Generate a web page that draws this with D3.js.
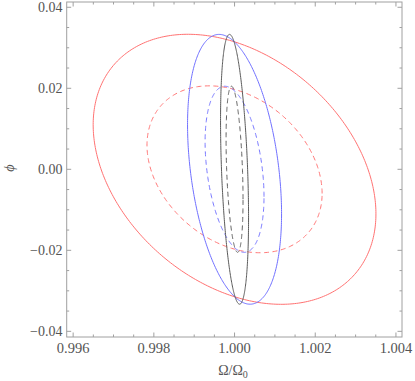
<!DOCTYPE html>
<html><head><meta charset="utf-8">
<script src="https://cdn.jsdelivr.net/npm/d3@7"></script>
<style>body{margin:0;background:#fff}svg{display:block}</style>
</head><body>
<script>
// Contour ellipses: centre, half-extent in x, half-extent in y, correlation
const names   = ["red2","red1","blue2","blue1","black2","black1"];
const colors  = ["#ff7272","#ff7878","#7070ff","#7878ff","#5a5a5a","#606060"];
const dashed  = [false,true,false,true,false,true];
const centerX = [1.0,1.0,1.0,1.0,1.0,1.0];
const centerY = [0,0,0,0,0,0];
const extentX = [0.003504,0.00217,0.001165,0.00073,0.000347,0.00021];
const extentY = [0.03333,0.0206,0.0333,0.0205,0.0333,0.0205];
const rho     = [-0.33,-0.29,-0.33,-0.33,-0.36,-0.36];
const xTicks  = [0.996,0.998,1.000,1.002,1.004];
const yTicks  = [-0.04,-0.02,0.00,0.02,0.04];

const W=415,H=381;
const m={l:66.7,r:402,t:2,b:337};
const x=d3.scaleLinear().domain([0.99584,1.00415]).range([m.l,m.r]);
const y=d3.scaleLinear().domain([-0.0414,0.0413]).range([m.b,m.t]);
const svg=d3.select("body").append("svg").attr("width",W).attr("height",H);
const FONT='"Liberation Serif", "Times New Roman", serif';

// ellipses
const line=d3.line().x(d=>x(d[0])).y(d=>y(d[1])).curve(d3.curveLinearClosed);
names.forEach((n,i)=>{
  const th=Math.acos(rho[i]);
  const pts=d3.range(0,360,1).map(a=>{const t=a*Math.PI/180;
    return [centerX[i]+extentX[i]*Math.cos(t), centerY[i]+extentY[i]*Math.cos(t-th)];});
  svg.append("path").attr("d",line(pts)).attr("fill","none")
    .attr("stroke",colors[i]).attr("stroke-width",1)
    .attr("stroke-dasharray",dashed[i]?"5,3.5":null);
});

// frame
const fc="#a0a0a0";
svg.append("rect").attr("x",m.l).attr("y",m.t).attr("width",m.r-m.l).attr("height",m.b-m.t)
  .attr("fill","none").attr("stroke",fc).attr("stroke-width",1);

const xMinor=d3.range(0.996,1.00401,0.0005).map(v=>+v.toFixed(5));
const yMinor=d3.range(-0.04,0.04001,0.005).map(v=>+v.toFixed(4));
const g=svg.append("g").attr("stroke",fc).attr("stroke-width",1);
xMinor.forEach(v=>{
  const major=xTicks.some(t=>Math.abs(t-v)<1e-7), L=major?4.5:2.5, px=x(v);
  g.append("line").attr("x1",px).attr("x2",px).attr("y1",m.b).attr("y2",m.b-L);
  g.append("line").attr("x1",px).attr("x2",px).attr("y1",m.t).attr("y2",m.t+L);
});
yMinor.forEach(v=>{
  const major=yTicks.some(t=>Math.abs(t-v)<1e-7), L=major?4.5:2.5, py=y(v);
  g.append("line").attr("y1",py).attr("y2",py).attr("x1",m.l).attr("x2",m.l+L);
  g.append("line").attr("y1",py).attr("y2",py).attr("x1",m.r).attr("x2",m.r-L);
});

const tc="#555";
xTicks.forEach(v=>svg.append("text").attr("x",x(v)).attr("y",352.5)
  .attr("text-anchor","middle").style("font-family",FONT).style("font-size","14.5px").attr("fill",tc)
  .text(d3.format(".3f")(v)));
yTicks.forEach(v=>svg.append("text").attr("x",62.5).attr("y",y(v)+4.8)
  .attr("text-anchor","end").style("font-family",FONT).style("font-size","14px").attr("fill",tc)
  .text(d3.format(".2f")(v).replace("-","\u2212")));

const xl=svg.append("text").attr("x",233).attr("y",375).attr("text-anchor","middle")
  .style("font-family",FONT).style("font-size","14px").attr("fill",tc);
xl.append("tspan").text("\u03A9/\u03A9");
xl.append("tspan").style("font-size","10px").attr("dy",2.5).text("0");

svg.append("text").attr("transform","translate(14,168) rotate(-90)").attr("text-anchor","middle")
  .style("font-family",FONT).style("font-style","italic").style("font-size","14px").attr("fill",tc).text("\u03D5");
</script>
</body></html>
